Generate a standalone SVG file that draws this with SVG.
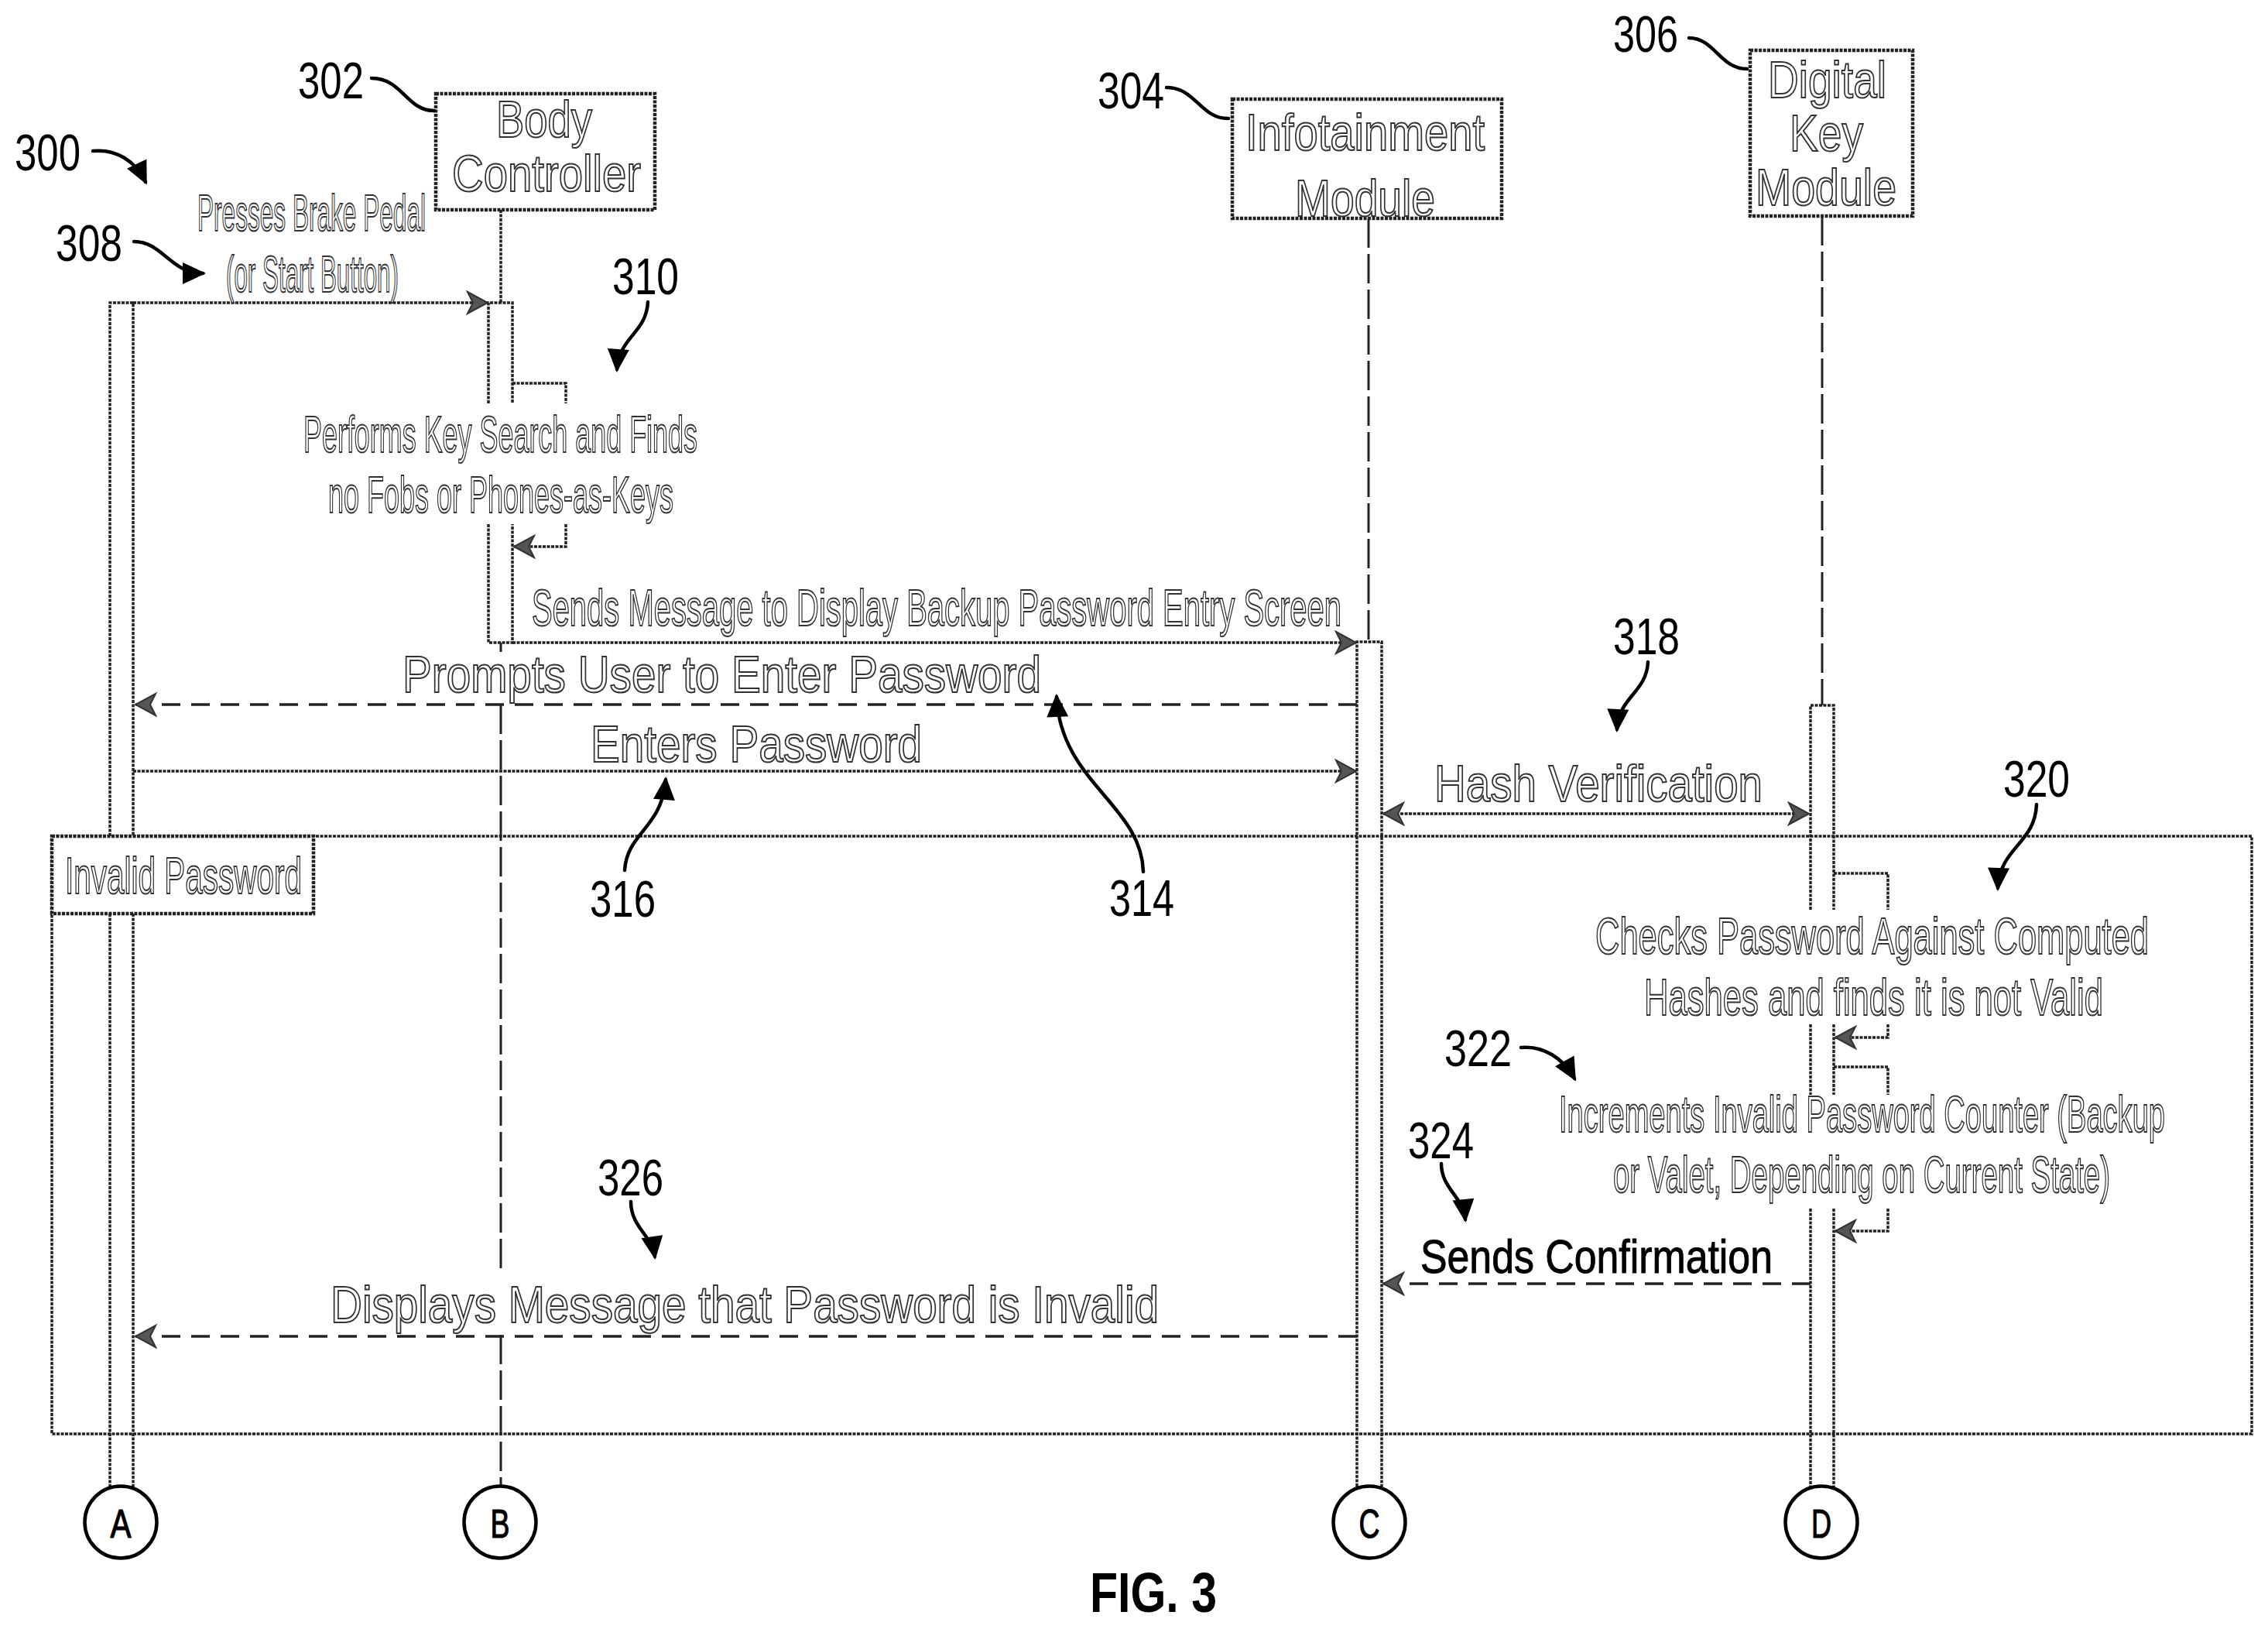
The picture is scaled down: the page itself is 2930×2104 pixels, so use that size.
<svg xmlns="http://www.w3.org/2000/svg" width="2930" height="2104" viewBox="0 0 2930 2104">
<defs>
<style>
text{font-family:"Liberation Sans",Arial,sans-serif}
.t{font-size:66px;fill:#fff;stroke:#333;stroke-width:2}
.n{font-size:66px;fill:#000}
.c{font-size:52px;fill:#000;stroke:#000;stroke-width:1.2;text-anchor:middle}
.l{fill:none;stroke:#222;stroke-width:3.5;stroke-dasharray:4 1.5}
.d{fill:none;stroke:#222;stroke-width:3.5;stroke-dasharray:24 14}
.v{fill:none;stroke:#222;stroke-width:3;stroke-dasharray:38 8}
.r{fill:none;stroke:#000;stroke-width:4.5;stroke-linecap:round}
.b{fill:#fff;stroke:#222;stroke-width:4.5;stroke-dasharray:4 1.5}
</style>
<marker id="h" markerUnits="userSpaceOnUse" viewBox="-30 -16 32 32" refX="-2" refY="0" markerWidth="32" markerHeight="32" orient="auto"><path d="M-28 -14L-2 0L-28 14L-21 0Z" fill="#555" stroke="#333" stroke-width="2"/></marker>
<marker id="hs" markerUnits="userSpaceOnUse" viewBox="-30 -16 32 32" refX="-2" refY="0" markerWidth="32" markerHeight="32" orient="auto-start-reverse"><path d="M-28 -14L-2 0L-28 14L-21 0Z" fill="#555" stroke="#333" stroke-width="2"/></marker>
<marker id="f" markerUnits="userSpaceOnUse" viewBox="-32 -16 36 32" refX="0" refY="0" markerWidth="36" markerHeight="32" orient="auto"><path d="M-26 -14L4 0L-26 14Z" fill="#000"/></marker>
</defs>
<rect width="2930" height="2104" fill="#fff"/>

<g id="connectors">
<path class="l" d="M647 271V391"/>
<path class="v" d="M1768 282V829"/>
<path class="v" d="M2354 279V911"/>
<path class="v" d="M647 830V842M647 910V1642M647 1724V1920"/>
<path class="l" d="M142 1080V391H172V1080M142 1180V1920M172 1180V1920"/>
<path class="l" d="M631 521V391H662V521M631 677V830H662V677"/>
<path class="l" d="M1753 1920V829H1785V1920"/>
<path class="l" d="M2339 1175V911H2369V1175M2339 1323V1414M2369 1323V1414M2339 1561V1920M2369 1561V1920"/>
<path class="l" marker-end="url(#h)" d="M172 391H630"/>
<path class="l" d="M662 495H731V521"/>
<path class="l" marker-end="url(#h)" d="M731 677V706H664"/>
<path class="l" marker-end="url(#h)" d="M662 830H1752"/>
<path class="d" marker-end="url(#h)" d="M1753 910H175"/>
<path class="l" marker-end="url(#h)" d="M172 996H1752"/>
<path class="l" marker-start="url(#hs)" marker-end="url(#hs)" d="M1787 1051H2337"/>
<path class="l" d="M2369 1128H2439V1175"/>
<path class="l" marker-end="url(#h)" d="M2439 1323V1340H2371"/>
<path class="l" d="M2369 1378H2439V1414"/>
<path class="l" marker-end="url(#h)" d="M2439 1561V1590H2371"/>
<path class="d" marker-end="url(#h)" d="M2339 1658H1787"/>
<path class="d" marker-end="url(#h)" d="M1753 1726H175"/>
</g>

<g id="frame-invalid-password">
<rect x="67" y="1080" width="2842" height="772" fill="none" stroke="#222" stroke-width="3.5" stroke-dasharray="4 1.5"/>
<rect class="b" x="67" y="1080" width="338" height="100"/>
<text class="t" x="84" y="1154" textLength="306" lengthAdjust="spacingAndGlyphs">Invalid Password</text>
</g>

<g id="node-302">
<rect class="b" x="563" y="121" width="283" height="150"/>
<text class="t" x="641" y="177" textLength="124" lengthAdjust="spacingAndGlyphs">Body</text>
<text class="t" x="584" y="247" textLength="244" lengthAdjust="spacingAndGlyphs">Controller</text>
</g>
<g id="node-304">
<rect class="b" x="1592" y="128" width="348" height="154"/>
<text class="t" x="1609" y="194" textLength="309" lengthAdjust="spacingAndGlyphs">Infotainment</text>
<text class="t" x="1673" y="279" textLength="181" lengthAdjust="spacingAndGlyphs">Module</text>
</g>
<g id="node-306">
<rect class="b" x="2261" y="65" width="210" height="214"/>
<text class="t" x="2284" y="126" textLength="153" lengthAdjust="spacingAndGlyphs">Digital</text>
<text class="t" x="2312" y="195" textLength="95" lengthAdjust="spacingAndGlyphs">Key</text>
<text class="t" x="2268" y="265" textLength="182" lengthAdjust="spacingAndGlyphs">Module</text>
</g>

<g id="messages">
<text class="t" x="255" y="298" textLength="295" lengthAdjust="spacingAndGlyphs">Presses Brake Pedal</text>
<text class="t" x="292" y="377" textLength="223" lengthAdjust="spacingAndGlyphs">(or Start Button)</text>
<text class="t" x="392" y="584" textLength="509" lengthAdjust="spacingAndGlyphs">Performs Key Search and Finds</text>
<text class="t" x="424" y="662" textLength="446" lengthAdjust="spacingAndGlyphs">no Fobs or Phones-as-Keys</text>
<text class="t" x="687" y="808" textLength="1046" lengthAdjust="spacingAndGlyphs">Sends Message to Display Backup Password Entry Screen</text>
<text class="t" x="520" y="894" textLength="825" lengthAdjust="spacingAndGlyphs">Prompts User to Enter Password</text>
<text class="t" x="763" y="984" textLength="428" lengthAdjust="spacingAndGlyphs">Enters Password</text>
<text class="t" x="1853" y="1035" textLength="424" lengthAdjust="spacingAndGlyphs">Hash Verification</text>
<text class="t" x="2061" y="1232" textLength="715" lengthAdjust="spacingAndGlyphs">Checks Password Against Computed</text>
<text class="t" x="2124" y="1311" textLength="593" lengthAdjust="spacingAndGlyphs">Hashes and finds it is not Valid</text>
<text class="t" x="2014" y="1462" textLength="783" lengthAdjust="spacingAndGlyphs">Increments Invalid Password Counter (Backup</text>
<text class="t" x="2084" y="1540" textLength="642" lengthAdjust="spacingAndGlyphs">or Valet, Depending on Current State)</text>
<text x="1835" y="1644" font-size="62" fill="#000" stroke="#000" stroke-width="1" textLength="455" lengthAdjust="spacingAndGlyphs">Sends Confirmation</text>
<text class="t" x="427" y="1708" textLength="1070" lengthAdjust="spacingAndGlyphs">Displays Message that Password is Invalid</text>
</g>

<g id="references">
<text class="n" x="19" y="220" textLength="85" lengthAdjust="spacingAndGlyphs">300</text>
<path class="r" marker-end="url(#f)" d="M120 195C150 192 175 208 188 235"/>
<text class="n" x="385" y="127" textLength="85" lengthAdjust="spacingAndGlyphs">302</text>
<path class="r" d="M480 101C520 101 525 143 561 143"/>
<text class="n" x="1418" y="140" textLength="86" lengthAdjust="spacingAndGlyphs">304</text>
<path class="r" d="M1507 113C1545 113 1550 153 1587 153"/>
<text class="n" x="2084" y="67" textLength="84" lengthAdjust="spacingAndGlyphs">306</text>
<path class="r" d="M2182 49C2215 49 2222 89 2257 89"/>
<text class="n" x="72" y="337" textLength="86" lengthAdjust="spacingAndGlyphs">308</text>
<path class="r" d="M173 312C210 312 220 353 262 353" marker-end="url(#f)"/>
<text class="n" x="791" y="380" textLength="86" lengthAdjust="spacingAndGlyphs">310</text>
<path class="r" d="M837 390C835 430 800 435 797 477" marker-end="url(#f)"/>
<text class="n" x="2084" y="845" textLength="86" lengthAdjust="spacingAndGlyphs">318</text>
<path class="r" d="M2129 855C2127 895 2091 900 2089 942" marker-end="url(#f)"/>
<text class="n" x="2588" y="1029" textLength="86" lengthAdjust="spacingAndGlyphs">320</text>
<path class="r" d="M2631 1039C2629 1090 2583 1095 2581 1147" marker-end="url(#f)"/>
<text class="n" x="762" y="1184" textLength="85" lengthAdjust="spacingAndGlyphs">316</text>
<path class="r" d="M807 1124C810 1075 855 1070 860 1007" marker-end="url(#f)"/>
<text class="n" x="1433" y="1183" textLength="84" lengthAdjust="spacingAndGlyphs">314</text>
<path class="r" d="M1477 1126C1475 1040 1370 1010 1365 900" marker-end="url(#f)"/>
<text class="n" x="1866" y="1377" textLength="87" lengthAdjust="spacingAndGlyphs">322</text>
<path class="r" d="M1965 1353C1995 1350 2020 1368 2034 1393" marker-end="url(#f)"/>
<text class="n" x="1819" y="1496" textLength="85" lengthAdjust="spacingAndGlyphs">324</text>
<path class="r" d="M1862 1503C1862 1535 1890 1545 1893 1575" marker-end="url(#f)"/>
<text class="n" x="772" y="1544" textLength="85" lengthAdjust="spacingAndGlyphs">326</text>
<path class="r" d="M815 1552C815 1585 842 1595 846 1623" marker-end="url(#f)"/>
</g>

<g id="connector-a"><circle cx="156" cy="1966" r="46.5" fill="#fff" stroke="#000" stroke-width="4.5"/><text class="c" x="156" y="1986" textLength="27" lengthAdjust="spacingAndGlyphs">A</text></g>
<g id="connector-b"><circle cx="646" cy="1966" r="46.5" fill="#fff" stroke="#000" stroke-width="4.5"/><text class="c" x="646" y="1986" textLength="25" lengthAdjust="spacingAndGlyphs">B</text></g>
<g id="connector-c"><circle cx="1769" cy="1966" r="46.5" fill="#fff" stroke="#000" stroke-width="4.5"/><text class="c" x="1769" y="1986" textLength="27" lengthAdjust="spacingAndGlyphs">C</text></g>
<g id="connector-d"><circle cx="2353" cy="1966" r="46.5" fill="#fff" stroke="#000" stroke-width="4.5"/><text class="c" x="2353" y="1986" textLength="26" lengthAdjust="spacingAndGlyphs">D</text></g>

<text x="1408" y="2082" font-size="73" font-weight="bold" fill="#000" textLength="164" lengthAdjust="spacingAndGlyphs">FIG. 3</text>
</svg>
